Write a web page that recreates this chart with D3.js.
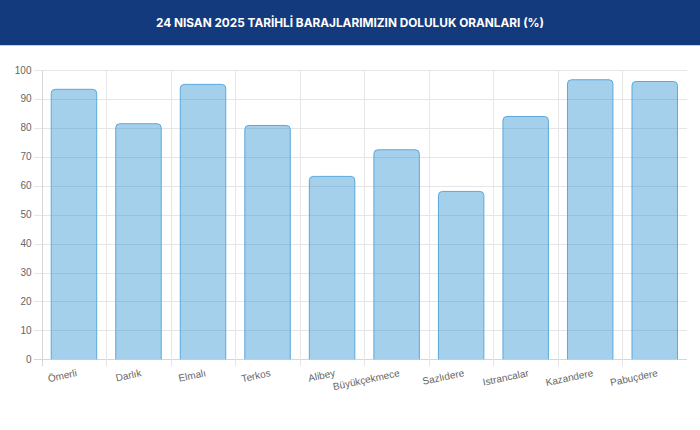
<!DOCTYPE html>
<html>
<head>
<meta charset="utf-8">
<title>Baraj Doluluk</title>
<script src="https://d3js.org/d3.v7.min.js"></script>
<style>
  body, html { margin: 0; padding: 0; background: #fff; }
  svg { display: block; }
  .ylab { font: 10px "Liberation Sans", Arial, sans-serif; fill: #666; }
  .xlab { font: 10px "Liberation Sans", Arial, sans-serif; fill: #666; }
  .title { font: bold 11.8px Inter, "DejaVu Sans", sans-serif; fill: #fff; }
</style>
</head>
<body>
<div id="chart"></div>
<script>
// dams and fill ratios (%)
var dams = ["Ömerli", "Darlık", "Elmalı", "Terkos", "Alibey", "Büyükçekmece", "Sazlıdere", "Istrancalar", "Kazandere", "Pabuçdere"];
var fill = [93.5, 81.6, 95.2, 81.0, 63.4, 72.6, 58.2, 84.1, 96.8, 96.2];
var yTicks = [0, 10, 20, 30, 40, 50, 60, 70, 80, 90, 100];
var titleText = "24 NISAN 2025 TARİHLİ BARAJLARIMIZIN DOLULUK ORANLARI (%)";

var W = 700, H = 430;
var pLeft = 41.7, pRight = 687, pTop = 70, pBottom = 359.3;

var svg = d3.select("#chart").append("svg")
    .attr("width", W)
    .attr("height", H);

// header band
svg.append("rect")
    .attr("x", 0).attr("y", 0)
    .attr("width", W).attr("height", 45)
    .attr("fill", "#143a7e");
svg.append("rect")
    .attr("x", 0).attr("y", 45)
    .attr("width", W).attr("height", 1)
    .attr("fill", "#c3cede");
svg.append("text")
    .attr("class", "title")
    .attr("x", W / 2)
    .attr("y", 23)
    .attr("text-anchor", "middle")
    .attr("dominant-baseline", "central")
    .text(titleText);

var x = d3.scaleBand().domain(dams).range([pLeft, pRight]);
var y = d3.scaleLinear().domain([0, 100]).range([pBottom, pTop]);

var g = svg.append("g");

// horizontal grid + ticks
g.selectAll(".hgrid").data(yTicks).enter().append("line")
    .attr("x1", pLeft - 8).attr("x2", pRight)
    .attr("y1", function(d) { return Math.round(y(d)) + 0.5; })
    .attr("y2", function(d) { return Math.round(y(d)) + 0.5; })
    .attr("stroke", function(d) { return d === 0 ? "#d6d6d6" : "#e6e6e6"; })
    .attr("stroke-width", 1);

// vertical grid at category boundaries
var bounds = dams.map(function(d) { return x(d); });
g.selectAll(".vgrid").data(bounds).enter().append("line")
    .attr("x1", function(d) { return Math.round(d) + 0.5; })
    .attr("x2", function(d) { return Math.round(d) + 0.5; })
    .attr("y1", pTop).attr("y2", pBottom + 7)
    .attr("stroke", function(d, i) { return i === 0 ? "#d6d6d6" : "#e6e6e6"; })
    .attr("stroke-width", 1);

// y labels
g.selectAll(".ylab").data(yTicks).enter().append("text")
    .attr("class", "ylab")
    .attr("x", 31.5)
    .attr("y", function(d) { return y(d); })
    .attr("text-anchor", "end")
    .attr("dominant-baseline", "central")
    .text(function(d) { return d; });

// bars with rounded tops
var bw = x.bandwidth() * 0.72;
var r = 4;
function barPath(d, i) {
  var cx = x(dams[i]) + x.bandwidth() / 2;
  var x0 = cx - bw / 2 + 0.5, x1 = cx + bw / 2 - 0.5;
  var y0 = y(d) + 0.5, yb = y(0);
  return "M" + x0 + "," + yb +
    "L" + x0 + "," + (y0 + r) +
    "Q" + x0 + "," + y0 + " " + (x0 + r) + "," + y0 +
    "L" + (x1 - r) + "," + y0 +
    "Q" + x1 + "," + y0 + " " + x1 + "," + (y0 + r) +
    "L" + x1 + "," + yb;
}
g.selectAll(".bar").data(fill).enter().append("path")
    .attr("d", barPath)
    .attr("fill", "rgba(54, 150, 212, 0.45)")
    .attr("stroke", "#5aa8dc")
    .attr("stroke-width", 1);

// rotated x labels
g.selectAll(".xlab").data(dams).enter().append("text")
    .attr("class", "xlab")
    .attr("text-anchor", "end")
    .attr("dominant-baseline", "hanging")
    .attr("transform", function(d) {
      return "translate(" + (x(d) + x.bandwidth() / 2 + 2) + "," + 369 + ") rotate(-12)";
    })
    .text(function(d) { return d; });
</script>
</body>
</html>
